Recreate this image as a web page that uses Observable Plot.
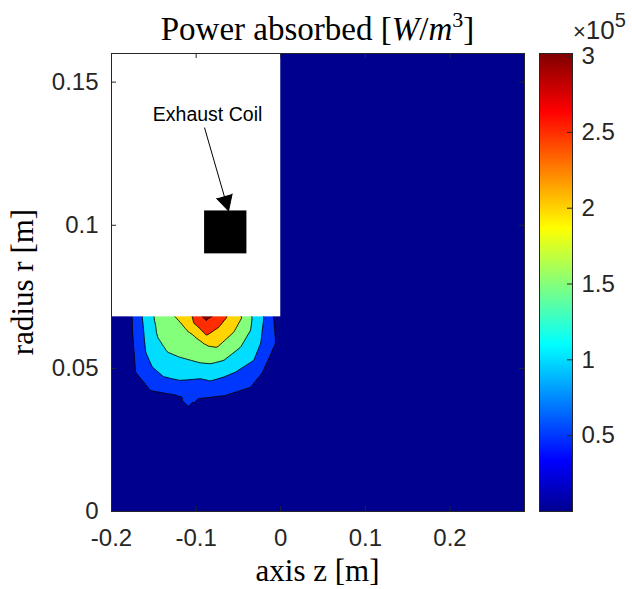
<!DOCTYPE html>
<html>
<head>
<meta charset="utf-8">
<script src="https://cdn.jsdelivr.net/npm/d3@7"></script>
<script src="https://cdn.jsdelivr.net/npm/@observablehq/plot@0.6"></script>
<style>
  body { margin: 0; background: #fff; }
  #fig { position: relative; width: 632px; height: 589px; overflow: hidden; background: #fff; }
  #fig svg { position: absolute; top: 0; }
</style>
</head>
<body>
<div id="fig"></div>
<script>
// Power absorbed [W/m^3] in the (z, r) plane, sampled along its level curves.
// Each point is [axial position z (m), radius r (m)].
const levels = [0.5e5, 1.0e5, 1.5e5, 2.0e5, 2.5e5, 3.0e5];

const level05 = [[-0.1756, 0.068], [-0.1716, 0.0487], [-0.1539, 0.0423], [-0.122, 0.0406], [-0.109, 0.0364],
  [-0.096, 0.0395], [-0.0652, 0.0406], [-0.0357, 0.0434], [-0.0215, 0.0486], [-0.0061, 0.0587], [-0.0085, 0.068]];
const level10 = [[-0.1637, 0.068], [-0.1598, 0.0557], [-0.1519, 0.0505], [-0.1382, 0.047], [-0.1204, 0.0458],
  [-0.0948, 0.0464], [-0.083, 0.0456], [-0.0673, 0.047], [-0.0534, 0.0487], [-0.0318, 0.0528], [-0.0239, 0.0586], [-0.02, 0.068]];
const level15 = [[-0.15, 0.068], [-0.146, 0.061], [-0.1342, 0.0557], [-0.1204, 0.054], [-0.0948, 0.0519],
  [-0.083, 0.0516], [-0.0673, 0.0528], [-0.0475, 0.0574], [-0.0357, 0.0633], [-0.0337, 0.068]];
const level20 = [[-0.1243, 0.068], [-0.1105, 0.0633], [-0.0909, 0.0587], [-0.0842, 0.0577], [-0.075, 0.0574],
  [-0.0554, 0.0627], [-0.0455, 0.068]];
const level25 = [[-0.1046, 0.068], [-0.0877, 0.0615], [-0.0732, 0.0644], [-0.0633, 0.068]];
const level30 = [[-0.0948, 0.068], [-0.0877, 0.0666], [-0.0806, 0.068]];

// Field maximum and the surrounding region where the absorbed power vanishes
const peak = [[-0.088, 0.071, 3.02e5]];
const quiet = [[-0.2, 0], [0.288, 0], [0.288, 0.16], [-0.2, 0.16],
  [-0.19, 0.068], [-0.186, 0.044], [-0.16, 0.032], [-0.125, 0.03], [-0.109, 0.026], [-0.09, 0.03],
  [-0.06, 0.031], [-0.03, 0.034], [-0.008, 0.042], [0.006, 0.058], [0.005, 0.068]];

// Axis ticks
const zTicks = [-0.2, -0.1, 0, 0.1, 0.2];
const rTicks = [0, 0.05, 0.1, 0.15];
const barTicks = [0.5e5, 1e5, 1.5e5, 2e5, 2.5e5, 3e5];

// Annotation: masked region, exhaust coil and its label
const mask = [{z1: -0.2, z2: 0, r1: 0.068, r2: 0.16}];
const coil = [{z1: -0.09, z2: -0.04, r1: 0.09, r2: 0.105}];
const pointer = [{z1: -0.09, r1: 0.134, z2: -0.0617, r2: 0.105}];
const coilLabel = [{z: -0.0865, r: 0.1385, text: "Exhaust Coil"}];

// ---- samples table for the contour mark
const curves = [level05, level10, level15, level20, level25, level30];
const samples = [
  ...curves.flatMap((pts, i) => pts.map(([z, r]) => ({z, r, p: levels[i]}))),
  ...peak.map(([z, r, p]) => ({z, r, p})),
  ...quiet.map(([z, r]) => ({z, r, p: 0}))
];
const pMax = d3.max(samples, d => d.p);

// jet colormap anchors
const jetStops = [0, 7 / 63, 23 / 63, 39 / 63, 55 / 63, 1];
const jetColors = ["#00008f", "#0000ff", "#00ffff", "#ffff00", "#ff0000", "#800000"];
const colorScale = {type: "linear", domain: jetStops.map(t => t * pMax), range: jetColors, interpolate: "rgb"};

const W = 632, H = 589;
const M = {top: 53, right: 108, bottom: 78, left: 111};
const innerW = W - M.left - M.right;
const innerH = H - M.top - M.bottom;
const tickLen = 5;
const ink = "#262626";
const sans = "'Liberation Sans', Arial, Helvetica, sans-serif";
const serif = "'Liberation Serif', 'Times New Roman', serif";

const main = Plot.plot({
  width: W, height: H,
  marginTop: M.top, marginRight: M.right, marginBottom: M.bottom, marginLeft: M.left,
  x: {domain: [-0.2, 0.288], label: null},
  y: {domain: [0, 0.16], label: null},
  color: colorScale,
  style: {fontFamily: sans, fontSize: "24px", color: ink, background: "transparent"},
  marks: [
    Plot.frame({fill: jetColors[0]}),
    Plot.contour(samples, {
      x: "z", y: "r", fill: "p", thresholds: levels, interpolate: "barycentric",
      stroke: "black", strokeWidth: 0.9
    }),
    Plot.rect(mask, {x1: "z1", x2: "z2", y1: "r1", y2: "r2", fill: "white"}),
    Plot.rect(coil, {x1: "z1", x2: "z2", y1: "r1", y2: "r2", fill: "black"}),
    Plot.arrow(pointer, {
      x1: "z1", y1: "r1", x2: "z2", y2: "r2",
      stroke: "black", fill: "black", strokeWidth: 1, headLength: 26, headAngle: 56
    }),
    Plot.text(coilLabel, {x: "z", y: "r", text: "text", fontSize: 19.5, fill: "black"}),
    // inward ticks on all four sides
    Plot.ruleX(zTicks, {x: d => d, insetTop: innerH - tickLen, stroke: ink}),
    Plot.ruleX(zTicks, {x: d => d, insetBottom: innerH - tickLen, stroke: ink}),
    Plot.ruleY(rTicks, {y: d => d, insetRight: innerW - tickLen, stroke: ink}),
    Plot.ruleY(rTicks, {y: d => d, insetLeft: innerW - tickLen, stroke: ink}),
    Plot.axisX(zTicks, {tickFormat: d => String(d), tickSize: 0, tickPadding: 17, label: null, fill: ink}),
    Plot.axisY(rTicks, {tickFormat: d => String(d), tickSize: 0, tickPadding: 13, label: null, fill: ink}),
    Plot.frame({stroke: ink, strokeWidth: 1})
  ]
});

// Title and axis labels (LaTeX-style serif)
const svg = d3.select(main);
const cx = M.left + innerW / 2;
const title = svg.append("text")
  .attr("x", cx).attr("y", 40).attr("text-anchor", "middle")
  .style("font-family", serif).style("font-size", "33px").attr("fill", "black");
title.append("tspan").text("Power absorbed [");
title.append("tspan").attr("font-style", "italic").text("W");
title.append("tspan").text("/");
title.append("tspan").attr("font-style", "italic").text("m");
title.append("tspan").attr("dy", -13).style("font-size", "22px").text("3");
title.append("tspan").attr("dy", 13).text("]");

svg.append("text")
  .attr("x", cx).attr("y", 581).attr("text-anchor", "middle")
  .style("font-family", serif).style("font-size", "31px").attr("fill", "black")
  .text("axis z [m]");

svg.append("text")
  .attr("transform", `translate(33,${M.top + innerH / 2}) rotate(-90)`)
  .attr("text-anchor", "middle")
  .style("font-family", serif).style("font-size", "31px").attr("fill", "black")
  .text("radius r [m]");

// Colorbar
const barLeft = 500;
const barW = 33;
const bar = Plot.plot({
  width: W - barLeft, height: H,
  marginTop: M.top, marginBottom: M.bottom, marginLeft: 39, marginRight: W - barLeft - 39 - barW,
  x: {domain: [0, 1], axis: null},
  y: {domain: [0, pMax], label: null},
  color: colorScale,
  style: {fontFamily: sans, fontSize: "24px", color: ink, background: "transparent"},
  marks: [
    Plot.raster({x1: 0, x2: 1, y1: 0, y2: pMax, fill: (x, y) => y}),
    Plot.ruleY(barTicks, {y: d => d, insetLeft: barW - tickLen, stroke: ink}),
    Plot.axisY(barTicks, {anchor: "right", tickFormat: d => String(d / 1e5), tickSize: 0, tickPadding: 9, label: null, fill: ink}),
    Plot.frame({stroke: ink, strokeWidth: 1})
  ]
});
bar.style.left = barLeft + "px";

const exp = d3.select(bar).append("text")
  .attr("x", 73).attr("y", 39).attr("text-anchor", "start")
  .style("font-family", sans).attr("fill", ink);
exp.append("tspan").style("font-size", "22px").text("\u00d7");
exp.append("tspan").style("font-size", "26px").text("10");
exp.append("tspan").attr("dy", -12).style("font-size", "20px").text("5");

const fig = document.getElementById("fig");
fig.append(main);
fig.append(bar);
</script>
</body>
</html>
